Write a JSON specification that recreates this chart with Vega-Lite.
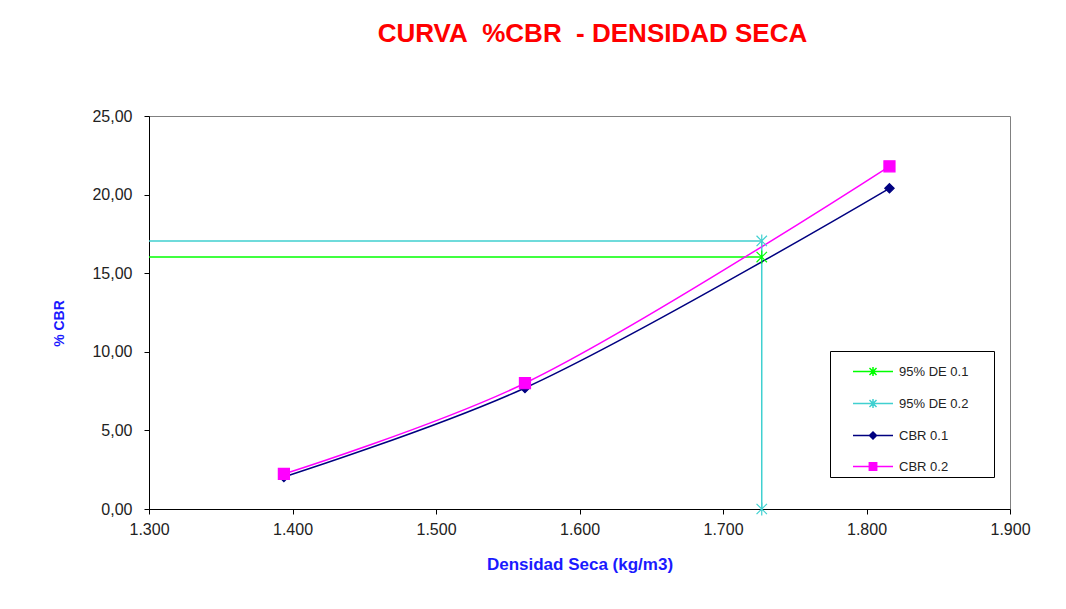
{
  "$schema": "https://vega.github.io/schema/vega-lite/v6.json",
  "width": 861,
  "height": 393,
  "autosize": {"type": "none"},
  "padding": {"left": 149, "top": 116, "right": 56, "bottom": 100},
  "background": "white",
  "title": {
    "text": "CURVA\u00a0 %CBR\u00a0 - DENSIDAD SECA",
    "color": "#FF0000",
    "font": "Liberation Sans",
    "fontSize": 26,
    "fontWeight": "bold",
    "anchor": "middle",
    "baseline": "bottom",
    "dx": 13,
    "offset": 35
  },
  "config": {
    "font": "Liberation Sans",
    "view": {"stroke": "#808080", "strokeWidth": 1},
    "axis": {
      "domainColor": "#000000",
      "tickColor": "#000000",
      "tickSize": 5,
      "grid": false,
      "labelFlush": false,
      "labelFont": "Liberation Sans",
      "labelFontSize": 16,
      "labelColor": "#222222",
      "titleFont": "Liberation Sans",
      "titleFontWeight": "bold",
      "titleColor": "#1a1aff"
    }
  },
  "data": {
    "values": [
      {"series": "95% DE 0.1", "x": 1300, "y": 16.03, "i": 1, "m": 0},
      {"series": "95% DE 0.1", "x": 1727, "y": 16.03, "i": 2, "m": 1},
      {"series": "95% DE 0.2", "x": 1300, "y": 17.05, "i": 1, "m": 0},
      {"series": "95% DE 0.2", "x": 1727, "y": 17.05, "i": 2, "m": 1},
      {"series": "95% DE 0.2", "x": 1727, "y": 0, "i": 3, "m": 1},
      {"series": "CBR 0.1", "x": 1394, "y": 2.04, "i": 1, "m": 1},
      {"series": "CBR 0.1", "x": 1562, "y": 7.7, "i": 2, "m": 1},
      {"series": "CBR 0.1", "x": 1816, "y": 20.4, "i": 3, "m": 1},
      {"series": "CBR 0.2", "x": 1394, "y": 2.23, "i": 1, "m": 1},
      {"series": "CBR 0.2", "x": 1562, "y": 8.0, "i": 2, "m": 1},
      {"series": "CBR 0.2", "x": 1816, "y": 21.8, "i": 3, "m": 1}
    ]
  },
  "encoding": {
    "x": {
      "field": "x",
      "type": "quantitative",
      "scale": {"domain": [1300, 1900], "nice": false, "zero": false},
      "axis": {
        "title": "Densidad Seca (kg/m3)",
        "titleFontSize": 17,
        "values": [1300, 1400, 1500, 1600, 1700, 1800, 1900],
        "labelExpr": "replace(format(datum.value, ',.0f'), ',', '.')",
        "labelPadding": 7,
        "titlePadding": 19
      }
    },
    "y": {
      "field": "y",
      "type": "quantitative",
      "scale": {"domain": [0, 25], "nice": false},
      "axis": {
        "title": "% CBR",
        "titleFontSize": 14,
        "titleY": 207,
        "values": [0, 5, 10, 15, 20, 25],
        "labelExpr": "replace(format(datum.value, '.2f'), '.', ',')",
        "labelPadding": 12,
        "titlePadding": 25
      }
    }
  },
  "layer": [
    {
      "transform": [{"filter": "indexof(datum.series, '95%') == 0"}],
      "mark": {"type": "line", "strokeWidth": 1.5},
      "encoding": {
        "color": {
          "field": "series",
          "type": "nominal",
          "scale": {"domain": ["95% DE 0.1", "95% DE 0.2", "CBR 0.1", "CBR 0.2"], "range": ["#00FF00", "#40D0D0", "#000080", "#FF00FF"]},
          "legend": null
        },
        "order": {"field": "i", "type": "quantitative"}
      }
    },
    {
      "transform": [{"filter": "indexof(datum.series, 'CBR') == 0"}],
      "mark": {"type": "line", "strokeWidth": 1.5, "interpolate": "catmull-rom"},
      "encoding": {
        "color": {
          "field": "series",
          "type": "nominal",
          "scale": {"domain": ["95% DE 0.1", "95% DE 0.2", "CBR 0.1", "CBR 0.2"], "range": ["#00FF00", "#40D0D0", "#000080", "#FF00FF"]},
          "legend": null
        },
        "order": {"field": "i", "type": "quantitative"}
      }
    },
    {
      "transform": [{"filter": "datum.m == 1"}],
      "mark": {"type": "point", "filled": true, "size": 169, "strokeWidth": 1.2, "opacity": 1},
      "encoding": {
        "color": {
          "field": "series",
          "type": "nominal",
          "scale": {"domain": ["95% DE 0.1", "95% DE 0.2", "CBR 0.1", "CBR 0.2"], "range": ["#00FF00", "#40D0D0", "#000080", "#FF00FF"]},
          "legend": null
        },
        "stroke": {
          "field": "series",
          "type": "nominal",
          "scale": {"domain": ["95% DE 0.1", "95% DE 0.2", "CBR 0.1", "CBR 0.2"], "range": ["#00FF00", "#40D0D0", "#000080", "#FF00FF"]},
          "legend": null
        },
        "shape": {
          "field": "series",
          "type": "nominal",
          "scale": {
            "domain": ["95% DE 0.1", "95% DE 0.2", "CBR 0.1", "CBR 0.2"],
            "range": [
              "M-0.8,-0.8L0.8,0.8M-0.8,0.8L0.8,-0.8M0,-1V1",
              "M-0.8,-0.8L0.8,0.8M-0.8,0.8L0.8,-0.8M0,-1V1",
              "M0,-0.72L0.72,0L0,0.72L-0.72,0Z",
              "M-0.85,-0.85H0.85V0.85H-0.85Z"
            ]
          },
          "legend": null
        }
      }
    },
    {
      "transform": [{"filter": "datum.m == 2"}],
      "mark": {"type": "point", "filled": true, "opacity": 1, "strokeWidth": 1.5},
      "encoding": {
        "color": {
          "field": "series",
          "type": "nominal",
          "scale": {"domain": ["95% DE 0.1", "95% DE 0.2", "CBR 0.1", "CBR 0.2"], "range": ["#00FF00", "#40D0D0", "#000080", "#FF00FF"]},
          "legend": {
            "title": null, "orient": "none", "legendX": 681, "legendY": 235,
            "padding": 3.5, "rowPadding": 7, "symbolOffset": 22.5, "labelOffset": 9,
            "symbolSize": 1024, "symbolStrokeWidth": 1.5, "symbolOpacity": 1,
            "labelFont": "Liberation Sans", "labelFontSize": 13, "labelColor": "#222222",
            "strokeColor": "#000000", "fillColor": "#FFFFFF",
            "labelExpr": "datum.label + '\u00a0\u00a0\u00a0\u00a0\u00a0\u00a0\u200b'"
          }
        },
        "stroke": {
          "field": "series",
          "type": "nominal",
          "scale": {"domain": ["95% DE 0.1", "95% DE 0.2", "CBR 0.1", "CBR 0.2"], "range": ["#00FF00", "#40D0D0", "#000080", "#FF00FF"]},
          "legend": {
            "title": null, "orient": "none", "legendX": 681, "legendY": 235,
            "padding": 3.5, "rowPadding": 7, "symbolOffset": 22.5, "labelOffset": 9,
            "symbolSize": 1024, "symbolStrokeWidth": 1.5, "symbolOpacity": 1,
            "labelFont": "Liberation Sans", "labelFontSize": 13, "labelColor": "#222222",
            "strokeColor": "#000000", "fillColor": "#FFFFFF",
            "labelExpr": "datum.label + '\u00a0\u00a0\u00a0\u00a0\u00a0\u00a0\u200b'"
          }
        },
        "shape": {
          "field": "series",
          "type": "nominal",
          "scale": {
            "domain": ["95% DE 0.1", "95% DE 0.2", "CBR 0.1", "CBR 0.2"],
            "range": [
              "M-1.25,0H1.25M-0.22,-0.22L0.22,0.22M-0.22,0.22L0.22,-0.22M0,-0.28V0.28",
              "M-1.25,0H1.25M-0.22,-0.22L0.22,0.22M-0.22,0.22L0.22,-0.22M0,-0.28V0.28",
              "M-1.25,0H1.25M0,-0.22L0.22,0L0,0.22L-0.22,0Z",
              "M-1.25,0H1.25M-0.23,-0.23H0.23V0.23H-0.23Z"
            ]
          },
          "legend": {
            "title": null, "orient": "none", "legendX": 681, "legendY": 235,
            "padding": 3.5, "rowPadding": 7, "symbolOffset": 22.5, "labelOffset": 9,
            "symbolSize": 1024, "symbolStrokeWidth": 1.5, "symbolOpacity": 1,
            "labelFont": "Liberation Sans", "labelFontSize": 13, "labelColor": "#222222",
            "strokeColor": "#000000", "fillColor": "#FFFFFF",
            "labelExpr": "datum.label + '\u00a0\u00a0\u00a0\u00a0\u00a0\u00a0\u200b'"
          }
        }
      }
    }
  ],
  "resolve": {"scale": {"color": "independent", "stroke": "independent", "shape": "independent"}}
}
